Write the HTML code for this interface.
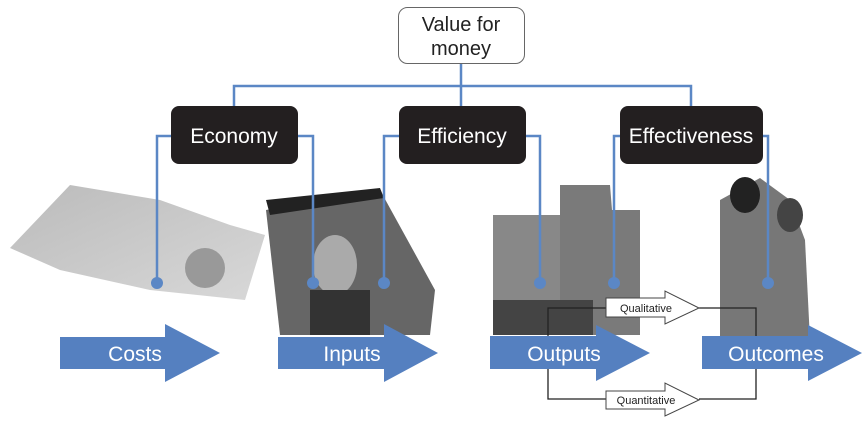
<!DOCTYPE html>
<html><head><style>
body{margin:0;background:#fff;width:863px;height:419px;overflow:hidden}
svg text{font-family:"Liberation Sans",sans-serif}
</style></head><body>
<svg width="863" height="419" viewBox="0 0 863 419" xmlns="http://www.w3.org/2000/svg">
<defs>
<linearGradient id="g1" x1="0" y1="0" x2="1" y2="1"><stop offset="0" stop-color="#bbb"/><stop offset="1" stop-color="#d8d8d8"/></linearGradient>
<linearGradient id="g2" x1="0" y1="0" x2="0" y2="1"><stop offset="0" stop-color="#777"/><stop offset="1" stop-color="#333"/></linearGradient>
</defs>
<!-- photos -->
<polygon points="10,248 70,185 160,200 230,225 265,235 245,300 150,290 60,270" fill="url(#g1)"/>
<circle cx="205" cy="268" r="20" fill="#999"/>
<polygon points="266,210 380,190 435,290 430,335 280,335" fill="#666"/>
<polygon points="266,200 380,188 384,198 270,215" fill="#222"/>
<ellipse cx="335" cy="265" rx="22" ry="30" fill="#aaa"/>
<rect x="310" y="290" width="60" height="45" fill="#333"/>
<rect x="493" y="215" width="147" height="120" fill="#888"/>
<polygon points="560,185 610,185 612,210 640,210 640,335 560,335" fill="#7a7a7a"/>
<rect x="493" y="300" width="100" height="35" fill="#444"/>
<polygon points="720,200 760,178 790,200 805,240 810,340 720,340" fill="#777"/>
<ellipse cx="745" cy="195" rx="15" ry="18" fill="#222"/>
<ellipse cx="790" cy="215" rx="13" ry="17" fill="#444"/>
<!-- connectors -->
<g stroke="#5b87c5" stroke-width="2.5" fill="none">
<path d="M461,64V86M234,106V86H691V106M461,86V106"/>
<path d="M171,136H157V283M298,136H313V283M399,136H384V283M526,136H540V283M620,136H614V283M763,136H768V283"/>
</g>
<g fill="#5b87c5"><circle cx="157" cy="283" r="6"/><circle cx="313" cy="283" r="6"/><circle cx="384" cy="283" r="6"/><circle cx="540" cy="283" r="6"/><circle cx="614" cy="283" r="6"/><circle cx="768" cy="283" r="6"/></g>
<!-- boxes -->
<rect x="398.5" y="7.5" width="126" height="56" rx="9" fill="#fff" stroke="#666"/>
<text x="461" y="31" font-size="20" text-anchor="middle" fill="#222">Value for</text>
<text x="461" y="55" font-size="20" text-anchor="middle" fill="#222">money</text>
<rect x="171" y="106" width="127" height="58" rx="8" fill="#231f20"/>
<rect x="399" y="106" width="127" height="58" rx="8" fill="#231f20"/>
<rect x="620" y="106" width="143" height="58" rx="8" fill="#231f20"/>
<g fill="#fff" font-size="21" text-anchor="middle">
<text x="234" y="143">Economy</text><text x="462" y="143">Efficiency</text><text x="691" y="143">Effectiveness</text></g>
<!-- big arrows -->
<g fill="#5580c0">
<polygon points="60,337 165,337 165,324 220,353 165,382 165,369 60,369"/>
<polygon points="278,337 384,337 384,324 438,353 384,382 384,369 278,369"/>
<polygon points="490,336 596,336 596,325 650,353 596,381 596,369 490,369"/>
<polygon points="702,336 808,336 808,325 862,353 808,381 808,369 702,369"/>
</g>
<g fill="#fff" font-size="21" text-anchor="middle">
<text x="135" y="361">Costs</text><text x="352" y="361">Inputs</text><text x="564" y="361">Outputs</text><text x="776" y="361">Outcomes</text></g>
<!-- small arrows -->
<g stroke="#222" stroke-width="1.3" fill="none">
<path d="M548,336V308H606M699,308H756V336M548,369V399H606M699,399H756V369"/>
</g>
<g fill="#fff" stroke="#444" stroke-width="1">
<polygon points="606,298 665,298 665,291 699,308 665,324 665,317 606,317"/>
<polygon points="606,391 665,391 665,383 699,400 665,416 665,409 606,409"/>
</g>
<g fill="#222" font-size="11" text-anchor="middle">
<text x="646" y="312">Qualitative</text><text x="646" y="404">Quantitative</text></g>
</svg>
</body></html>
